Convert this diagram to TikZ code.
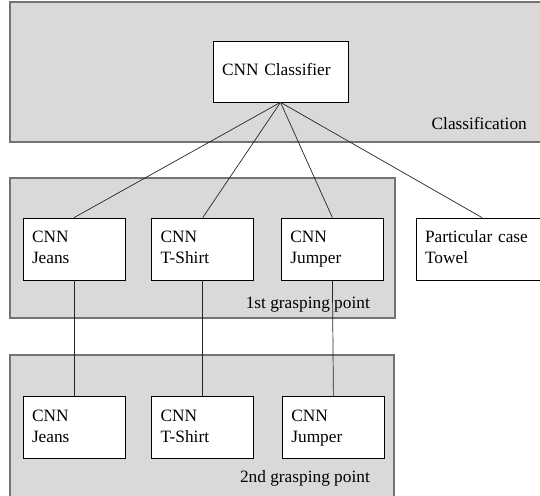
\documentclass[tikz,border=0pt]{standalone}
\usepackage{fontspec}
\setmainfont{Liberation Serif}
\usetikzlibrary{positioning}

\tikzset{
  panel/.style={draw=black!55, fill=black!15, line width=1.2pt},
  netbox/.style={draw, fill=white, line width=0.7pt, align=left,
    font=\fontsize{17.3}{21}\selectfont, inner xsep=9pt, inner ysep=0pt,
    text width=#1, minimum height=62pt},
  netbox/.default=84pt,
  stagelabel/.style={anchor=east, inner sep=0pt, font=\fontsize{17.3}{21}\selectfont},
  link/.style={line width=0.7pt, black!85}
}

\begin{document}
\begin{tikzpicture}[x=1pt, y=-1pt]
    \clip (0, 0) rectangle (540, 495);
    % stages
    \draw[panel] (10, 2) rectangle (560, 142);
    \draw[panel] (10, 178) rectangle (395, 318);
    \draw[panel] (10, 355) rectangle (394, 520);
    \node[stagelabel] (lblcls) at (527, 123) {Classification};
    \node[stagelabel] (lblfirst) at (370, 305) {1st grasping point};
    \node[stagelabel] (lblsecond) at (370, 478) {2nd grasping point};

    % networks
    \node[netbox=117pt, minimum height=61pt] (cls) at (280.5, 71.5) {CNN Classifier\strut};
    \node[netbox] (jeansA) at (74, 249) {CNN\strut\\Jeans\strut};
    \node[netbox, right=26pt of jeansA] (shirtA) {CNN\strut\\T-Shirt\strut};
    \node[netbox, right=27pt of shirtA] (jumperA) {CNN\strut\\Jumper\strut};
    \node[netbox=114pt, right=32pt of jumperA] (towel) {Particular case\strut\\Towel\strut};
    \node[netbox, below=116pt of jeansA] (jeansB) {CNN\strut\\Jeans\strut};
    \node[netbox, below=116pt of shirtA] (shirtB) {CNN\strut\\T-Shirt\strut};
    \node[netbox, below=116pt of jumperA, xshift=1pt] (jumperB) {CNN\strut\\Jumper\strut};

    \draw[link] (cls.south) -- (jeansA.north);
    \draw[link] (cls.south) -- (shirtA.north);
    \draw[link] (cls.south) -- (jumperA.north);
    \draw[link] (cls.south) -- (towel.north);
    \draw[link] (jeansA.south) -- (jeansB.north);
    \draw[link] (shirtA.south) -- (shirtB.north);
    \draw[link] (jumperA.south) -- (jumperB.north);
  \end{tikzpicture}
\end{document}
